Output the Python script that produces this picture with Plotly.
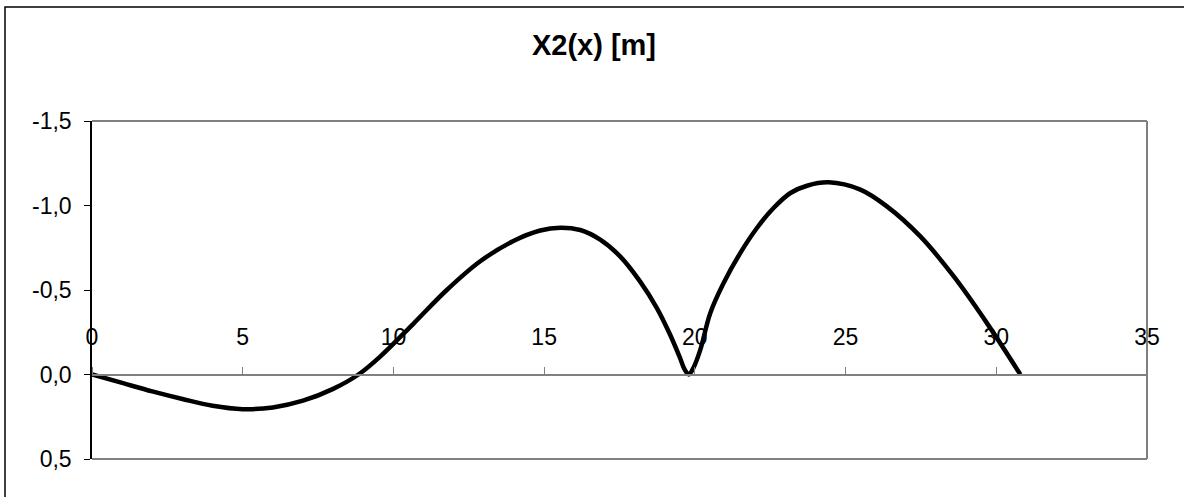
import plotly.graph_objects as go

# Data
x_vals = [0, 1, 2, 3, 4, 5, 6, 7, 8, 8.84, 9.56, 10.66, 11.77, 12.88, 13.98,
          14.87, 15.53, 16.2, 16.86, 17.52, 18.18, 18.74, 19.18, 19.51, 19.66,
          19.8, 19.94, 20.18, 20.51, 20.95, 21.51, 22.06, 22.61, 23.17, 23.72,
          24.44, 25.49, 26.37, 27.48, 28.59, 29.69, 30.8]
y_vals = [0, 0.05, 0.10, 0.145, 0.185, 0.205, 0.195, 0.155, 0.085, 0.0,
          -0.106, -0.30, -0.50, -0.67, -0.79, -0.852, -0.869, -0.855, -0.798,
          -0.699, -0.551, -0.393, -0.235, -0.097, -0.03, 0.0, -0.035, -0.146,
          -0.363, -0.54, -0.72, -0.867, -0.985, -1.074, -1.117, -1.137,
          -1.094, -0.995, -0.817, -0.58, -0.304, 0.0]

x_ticks = [0, 5, 10, 15, 20, 25, 30, 35]
x_ticktext = ["0", "5", "10", "15", "20", "25", "30", "35"]
y_ticks = [-1.5, -1.0, -0.5, 0.0, 0.5]
y_ticktext = ["-1,5", "-1,0", "-0,5", "0,0", "0,5"]
title_text = "X2(x) [m]"

FONT = "Liberation Sans, Arial, sans-serif"
GRAY = "#808080"

fig = go.Figure()
fig.add_trace(go.Scatter(
    x=x_vals, y=y_vals, mode="lines",
    line=dict(color="black", width=4.5, shape="spline", smoothing=1.0),
    showlegend=False, hoverinfo="skip"))

W, H = 1184, 497
L, R, T, B = 92, 37, 121, 38
pw, ph = W - L - R, H - T - B

def px(xp):
    return (xp - L) / pw

def py(yp):
    return (H - B - yp) / ph

fig.update_layout(
    width=W, height=H,
    margin=dict(l=L, r=R, t=T, b=B, autoexpand=False),
    paper_bgcolor="white", plot_bgcolor="white",
    font=dict(family=FONT, color="black", size=23),
    title=dict(text="<b>" + title_text + "</b>", x=594 / W, xref="container",
               xanchor="center", y=1 - 45 / H, yref="container",
               yanchor="middle", font=dict(family=FONT, size=29, color="black")),
    xaxis=dict(range=[0, 35], tickvals=x_ticks, ticktext=x_ticktext,
               anchor="free", position=0.25, side="top",
               showline=True, linecolor=GRAY, linewidth=2,
               ticks="outside", ticklen=7, tickcolor=GRAY, tickwidth=1,
               ticklabelstandoff=12,
               showgrid=False, zeroline=False,
               tickfont=dict(family=FONT, size=23, color="black")),
    yaxis=dict(range=[0.5, -1.5], tickvals=y_ticks, ticktext=y_ticktext,
               showline=True, linecolor="black", linewidth=1.5,
               ticks="outside", ticklen=6, tickcolor="black", tickwidth=1,
               ticklabelstandoff=8,
               showgrid=False, zeroline=False,
               tickfont=dict(family=FONT, size=23, color="black")),
    shapes=[
        dict(type="line", xref="paper", yref="paper", x0=0, x1=1, y0=1, y1=1,
             line=dict(color=GRAY, width=2), layer="below"),
        dict(type="line", xref="paper", yref="paper", x0=1, x1=1, y0=0, y1=1,
             line=dict(color=GRAY, width=2), layer="below"),
        dict(type="line", xref="paper", yref="paper", x0=0, x1=1, y0=0, y1=0,
             line=dict(color=GRAY, width=2), layer="below"),
        dict(type="rect", xref="paper", yref="paper",
             x0=px(5), x1=px(1300), y0=py(600), y1=py(7),
             line=dict(color="black", width=1.5), fillcolor="rgba(0,0,0,0)",
             layer="below"),
    ],
)

fig.write_html("out.html",
               config={"displayModeBar": False},
               post_script="document.body.style.margin='0';"
                           "document.body.style.overflow='hidden';")
